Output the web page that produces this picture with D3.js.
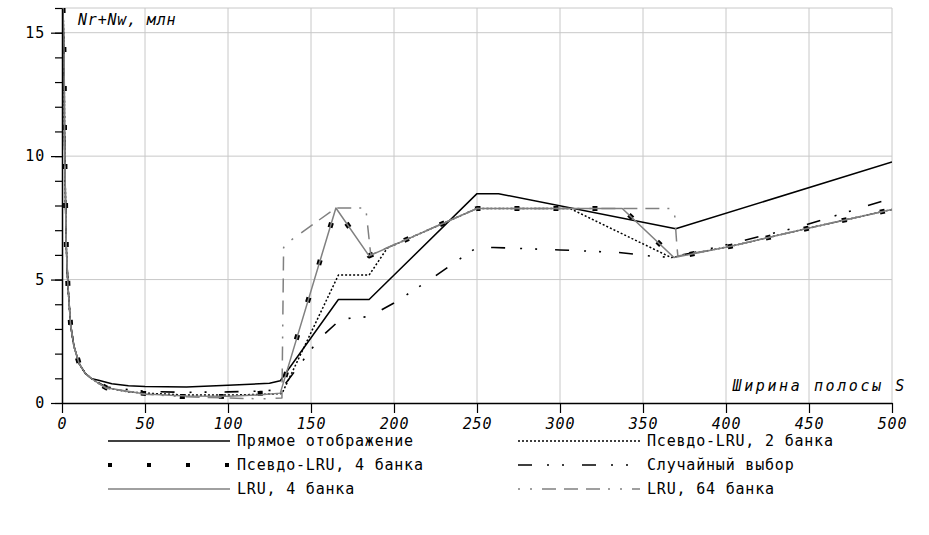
<!DOCTYPE html>
<html>
<head>
<meta charset="utf-8">
<script src="https://cdn.jsdelivr.net/npm/d3@7"></script>
<style>
  body { margin: 0; background: #fff; }
  text { font-family: "DejaVu Sans Mono", monospace; font-size: 15px; letter-spacing: 0.8px; fill: #000; }
</style>
</head>
<body>
<script>
// ticks
const xTicks = [0, 50, 100, 150, 200, 250, 300, 350, 400, 450, 500];
const yTicks = [0, 5, 10, 15];
const yMinorTicks = d3.range(0, 17);

// common steep head (all series coincide here)
const decayHead = [[0.6, 16], [1.2, 14.2], [1.4, 12.6], [1.5, 11.0], [1.8, 9.46], [2.2, 7.88],
    [2.6, 6.31], [3.6, 4.73], [5.2, 3.15], [7.2, 2.3], [10.3, 1.6], [14, 1.2], [18, 0.98]];

// series values [S, Nr+Nw]
const directMapped = [[22, 0.92], [30, 0.78], [40, 0.7], [50, 0.67], [75, 0.65], [100, 0.72],
    [125, 0.8], [131.5, 0.9], [166.5, 4.19], [185, 4.19], [250, 8.48], [263, 8.48], [369.7, 7.06], [500, 9.76]];
const plru2 = [[22, 0.8], [26.5, 0.62], [40, 0.45], [50, 0.4], [75, 0.32], [100, 0.32], [120, 0.35],
    [132.5, 0.38], [166.5, 5.18], [185, 5.18], [196, 6.28], [250, 7.88], [306, 7.88], [367, 5.89],
    [403, 6.35], [449.5, 7.08], [500, 7.84]];
const plru4 = [[22, 0.8], [26.5, 0.62], [49, 0.39], [72, 0.26], [96, 0.26], [119, 0.39], [131.5, 0.42],
    [165, 7.9], [185, 5.96], [250, 7.88], [337.5, 7.88], [368.7, 5.89], [403, 6.35], [449.5, 7.08], [500, 7.84]];
const randomRepl = [[22, 0.82], [26.5, 0.65], [50, 0.47], [75, 0.43], [100, 0.45], [120, 0.48], [132, 0.55],
    [155, 2.6], [168, 3.4], [185, 3.5], [200, 4.05], [224, 5.1], [241, 5.9], [250, 6.3], [260, 6.3],
    [300, 6.2], [335, 6.1], [355, 5.95], [366, 5.9], [380, 6.08], [445, 7.15], [500, 8.3]];
const lru4 = [[22, 0.8], [26.5, 0.62], [50, 0.36], [75, 0.28], [100, 0.27], [120, 0.33], [131.5, 0.4],
    [165, 7.9], [185, 5.96], [250, 7.88], [337.5, 7.88], [368.7, 5.89], [403, 6.35], [449.5, 7.08], [500, 7.84]];
const lru64 = [[22, 0.8], [26.5, 0.6], [50, 0.35], [75, 0.25], [100, 0.2], [120, 0.17], [132.5, 0.2],
    [133.5, 6.3], [137, 6.55], [165, 7.9], [183, 7.9], [186, 6.0], [250, 7.88], [367, 7.88], [369, 7.7],
    [370.5, 6.3], [371, 5.95], [403, 6.35], [449.5, 7.08], [500, 7.84]];

const seriesNames = ["Прямое отображение", "Псевдо-LRU, 2 банка", "Псевдо-LRU, 4 банка",
    "Случайный выбор", "LRU, 4 банка", "LRU, 64 банка"];

const width = 929, height = 535;
const margin = {top: 8, left: 62};
const plotW = 830, plotH = 395;

const x = d3.scaleLinear().domain([0, 500]).range([0, plotW]);
const y = d3.scaleLinear().domain([0, 16]).range([plotH, 0]);

const styles = [
    {stroke: "#000", width: 1.5, dash: null},
    {stroke: "#000", width: 1.5, dash: "2,2"},
    {stroke: "#000", width: 5, dash: "5,34"},
    {stroke: "#000", width: 1.6, dash: "14,15,2,13,2,18"},
    {stroke: "#808080", width: 1.5, dash: null},
    {stroke: "#808080", width: 1.5, dash: "2,10,2,10,14,8,14,8,14,8"}
];

const data = [directMapped, plru2, plru4, randomRepl, lru4, lru64].map(d => decayHead.concat(d));

const svg = d3.select("body").append("svg")
    .attr("width", width)
    .attr("height", height);

svg.append("defs").append("clipPath").attr("id", "clip")
  .append("rect").attr("width", plotW).attr("height", plotH);

const g = svg.append("g")
    .attr("transform", "translate(" + margin.left + "," + margin.top + ")");

// grid
g.selectAll(".vgrid").data(xTicks.slice(1))
  .enter().append("line")
    .attr("x1", d => x(d)).attr("x2", d => x(d))
    .attr("y1", 0).attr("y2", plotH)
    .attr("stroke", "#c8c8c8");
g.selectAll(".hgrid").data(yTicks.slice(1).concat([16]))
  .enter().append("line")
    .attr("x1", 0).attr("x2", plotW)
    .attr("y1", d => y(d)).attr("y2", d => y(d))
    .attr("stroke", "#c8c8c8");

// lines
const line = d3.line().x(d => x(d[0])).y(d => y(d[1]));

g.append("g").attr("clip-path", "url(#clip)")
  .selectAll("path").data(data)
  .enter().append("path")
    .attr("d", line)
    .attr("fill", "none")
    .attr("stroke", (d, i) => styles[i].stroke)
    .attr("stroke-width", (d, i) => styles[i].width)
    .attr("stroke-dasharray", (d, i) => styles[i].dash)
    .attr("stroke-linejoin", "round");

// axes
const yMinor = g.append("g")
    .call(d3.axisLeft(y).tickValues(yMinorTicks).tickSize(7).tickFormat(""));
yMinor.select(".domain").remove();

const yAxis = g.append("g")
    .call(d3.axisLeft(y).tickValues(yTicks).tickSize(11).tickSizeOuter(0).tickPadding(6));
yAxis.selectAll("text").attr("font-size", null).attr("font-family", null);

const xAxis = g.append("g")
    .attr("transform", "translate(0," + plotH + ")")
    .call(d3.axisBottom(x).tickValues(xTicks).tickSize(10).tickSizeOuter(0).tickPadding(5));
xAxis.selectAll("text").attr("font-size", null).attr("font-family", null)
    .style("font-style", "italic");

g.selectAll(".domain").attr("stroke-width", 1.5);
g.selectAll(".tick line").attr("stroke-width", 1.2);

// axis titles
g.append("text")
    .attr("x", 16).attr("y", 17)
    .style("font-style", "italic")
    .text("Nr+Nw, млн");
g.append("text")
    .attr("x", plotW + 15).attr("y", plotH - 12)
    .attr("text-anchor", "end")
    .style("font-style", "italic")
    .style("letter-spacing", "2.6px")
    .text("Ширина полосы S");

// legend
const legendCols = [108, 518];
const legendRows = [441, 465, 489];
const legend = svg.append("g");
seriesNames.forEach((name, i) => {
    const lx = legendCols[i % 2], ly = legendRows[Math.floor(i / 2)];
    legend.append("line")
        .attr("x1", lx).attr("x2", lx + 122)
        .attr("y1", ly).attr("y2", ly)
        .attr("stroke", styles[i].stroke)
        .attr("stroke-width", i === 2 ? 4 : styles[i].width)
        .attr("stroke-dasharray", i === 2 ? "4,35" : styles[i].dash);
    legend.append("text")
        .attr("x", lx + 129).attr("y", ly)
        .attr("dy", "0.35em")
        .text(name);
});
</script>
</body>
</html>
